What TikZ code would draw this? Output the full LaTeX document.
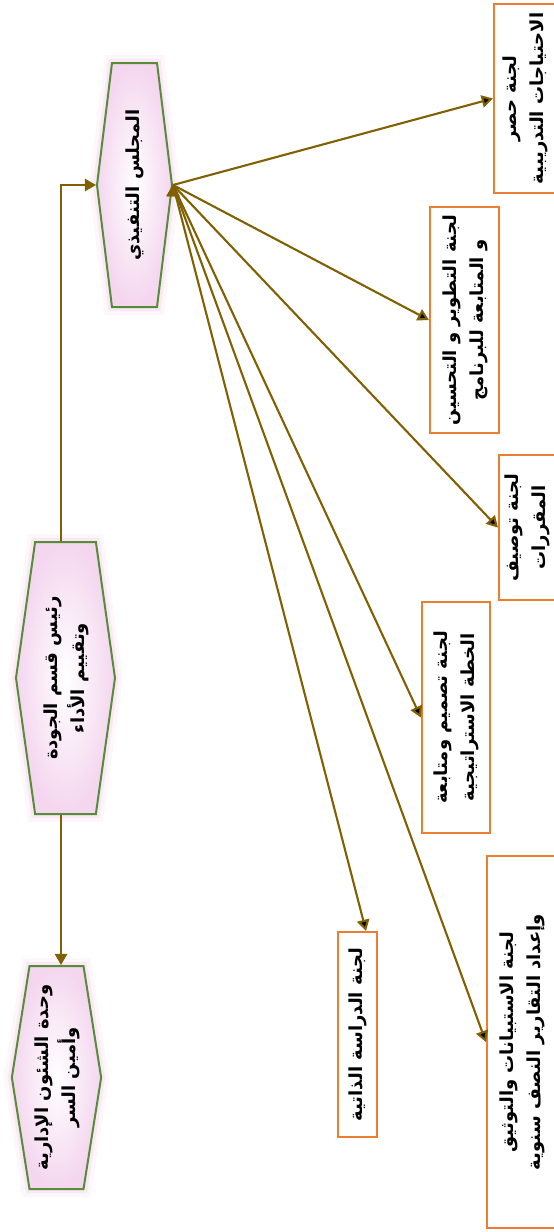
\documentclass[tikz,border=0pt]{standalone}
\usepackage{fontspec}
\usepackage{graphicx}
\usetikzlibrary{arrows,shapes.symbols}
\TeXXeTstate=1
\newfontfamily\arabicfont[Script=Arabic]{DejaVu Sans}
\definecolor{lineolive}{RGB}{128,96,0}
\definecolor{lajnaorange}{RGB}{237,125,49}
\definecolor{hexgreen}{RGB}{88,140,56}
\definecolor{hexpink}{RGB}{244,214,239}
\definecolor{glowpink}{RGB}{236,190,226}
\newcommand{\ar}[1]{\beginR #1\endR}
\newcommand{\vtext}[1]{\rotatebox{90}{\arabicfont\bfseries\fontsize{18}{27}\selectfont
    \begin{tabular}{@{}c@{}}#1\end{tabular}}}
\tikzset{main base/.style={inner sep=0pt,text centered, }, }
\tikzset{hexa node/.style={signal,signal to=west and east,signal pointer angle=#1,
    draw=hexgreen,line width=2pt,inner color=white,outer color=hexpink,main base,
    preaction={draw=glowpink,line width=16pt,opacity=0.12},
    preaction={draw=glowpink,line width=8pt,opacity=0.25}}, }
\tikzset{hexa node/.default=164}
\tikzset{lajna node/.style={rectangle,draw=lajnaorange,line width=2.2pt,fill=white,main base}, }
\tikzset{linea/.style={-triangle 60,line width=2.1pt,draw=lineolive}}

\begin{document}
\begin{tikzpicture}[x=1pt,y=-1pt]
  \useasboundingbox (0,0) rectangle (554,1232);
  % hexagons
  \node[hexa node=166,minimum width=75pt,minimum height=244pt] (1) at (134.5,185)
    {\vtext{\ar{المجلس التنفيذي}}};
  \node[hexa node=164,minimum width=99pt,minimum height=272pt] (2) at (65.5,678)
    {\vtext{\ar{رئيس قسم الجودة}\\\ar{وتقييم الأداء}}};
  \node[hexa node=162,minimum width=89pt,minimum height=223pt] (3) at (56.5,1077.5)
    {\vtext{\ar{وحدة الشئون الإدارية}\\\ar{وأمين السر}}};
%
  \node[lajna node,minimum width=62pt,minimum height=189pt] (4) at (525,98.5)
    {\vtext{\ar{لجنة حصر}\\\ar{الاحتياجات التدريبية}}};
  \node[lajna node,minimum width=69pt,minimum height=226pt] (5) at (464.5,320)
    {\vtext{\ar{لجنة التطوير و التحسين}\\\ar{و المتابعة للبرنامج}}};
  \node[lajna node,minimum width=56pt,minimum height=145pt] (6) at (527,527.5)
    {\vtext{\ar{لجنة توصيف}\\\ar{المقررات}}};
  \node[lajna node,minimum width=68pt,minimum height=231pt] (7) at (456,717.5)
    {\vtext{\ar{لجنة تصميم ومتابعة}\\\ar{الخطة الاستراتيجية}}};
  \node[lajna node,minimum width=39pt,minimum height=205pt] (8) at (357.5,1034.5)
    {\vtext{\ar{لجنة الدراسة الذاتية}}};
  \node[lajna node,minimum width=69pt,minimum height=372pt] (9) at (521.5,1042)
    {\vtext{\ar{لجنة الاستبيانات والتوثيق}\\\ar{وإعداد التقارير النصف سنوية}}};
%
  \draw[linea] ([xshift=-4.5pt]2.north) |- (1.west);
  \draw[linea] ([xshift=-4.5pt]2.south) -- ([xshift=-4.5pt]2.south |- 3.north);
\foreach \y in {4,5,6,7,9}
  \path[linea] (1.east) edge node {} (\y.west);
  \path[linea] (1.east) edge node {} ([xshift=8.5pt]8.north);
%
\end{tikzpicture}
\end{document}
